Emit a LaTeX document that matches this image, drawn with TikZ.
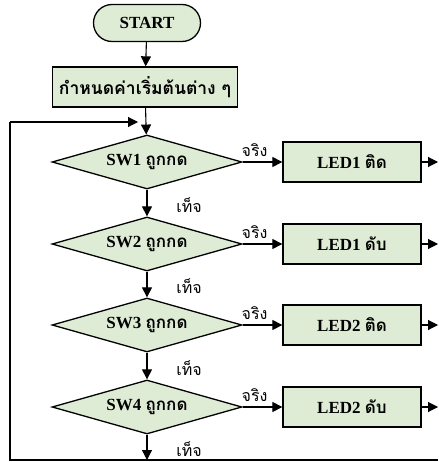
\documentclass[tikz,border=0pt]{standalone}
\usepackage{fontspec}
\setmainfont{Liberation Serif}
\newfontfamily\thaifont[Script=Thai]{Loma}
\usetikzlibrary{shapes.geometric,shapes.misc,arrows.meta}
\definecolor{boxfill}{RGB}{223,236,213}
\newcommand{\thtxt}[1]{{\thaifont #1}}
\tikzset{
  box/.style={draw=black, line width=1.3pt, fill=boxfill, inner sep=0pt, font=\fontsize{17}{19}\selectfont\bfseries},
  startbox/.style={box, rounded rectangle, minimum width=107pt, minimum height=37pt},
  procbox/.style={box, rectangle, minimum height=40pt},
  decbox/.style={box, diamond, minimum width=190pt, minimum height=54pt, aspect=3.5},
  flow/.style={line width=1.1pt, -{Triangle[length=10pt,width=10pt]}},
  line/.style={line width=1.1pt},
  lbl/.style={font=\fontsize{16}{18}\selectfont\thaifont, inner sep=0pt}
}
\begin{document}
\begin{tikzpicture}[x=1pt,y=1pt]
\useasboundingbox (0,0) rectangle (438,-462);
\node[startbox] (start) at (147,-23) {START};
\node[procbox, minimum width=185pt] (init) at (145,-87) {\thtxt{\fontsize{17.5}{19}\selectfont กำหนดค่าเริ่มต้นต่าง ๆ}};
\node[decbox] (d1) at (147,-162) {SW1 \thtxt{ถูกกด}};
\node[decbox] (d2) at (147,-244) {SW2 \thtxt{ถูกกด}};
\node[decbox] (d3) at (147,-325) {SW3 \thtxt{ถูกกด}};
\node[decbox] (d4) at (147,-407) {SW4 \thtxt{ถูกกด}};
\node[procbox, minimum width=138pt] (l1) at (352,-162) {LED1 \thtxt{ติด}};
\node[procbox, minimum width=138pt] (l2) at (352,-244) {LED1 \thtxt{ดับ}};
\node[procbox, minimum width=138pt] (l3) at (352,-325) {LED2 \thtxt{ติด}};
\node[procbox, minimum width=138pt] (l4) at (352,-407) {LED2 \thtxt{ดับ}};
\coordinate (mj) at (147,-122);
\coordinate (tl) at (10,-122);
\coordinate (bl) at (10,-460);
\coordinate (bm) at (147,-460);
\coordinate (br) at (438,-460);
\foreach \i/\y in {1/-162,2/-244,3/-325,4/-407}{
  \coordinate (r\i) at (438,\y);
}
\draw[flow] (start) -- (init);
\draw[flow] (init) -- (d1);
\draw[flow] (d1) -- (d2);
\draw[flow] (d2) -- (d3);
\draw[flow] (d3) -- (d4);
\draw[flow] (d4) -- (bm);
\draw[line] (br) -- (bl) -- (tl);
\draw[flow, shorten >=9pt] (tl) -- (mj);
\foreach \i in {1,2,3,4}{
  \draw[flow] (d\i) -- node[lbl, pos=0.3, above=5pt] {จริง} (l\i);
  \draw[flow] (l\i) -- (r\i);
}
\node[lbl] (f1) at (189,-205) {เท็จ};
\node[lbl] (f2) at (189,-286) {เท็จ};
\node[lbl] (f3) at (189,-368) {เท็จ};
\node[lbl] (f4) at (189,-449) {เท็จ};
\end{tikzpicture}
\end{document}
